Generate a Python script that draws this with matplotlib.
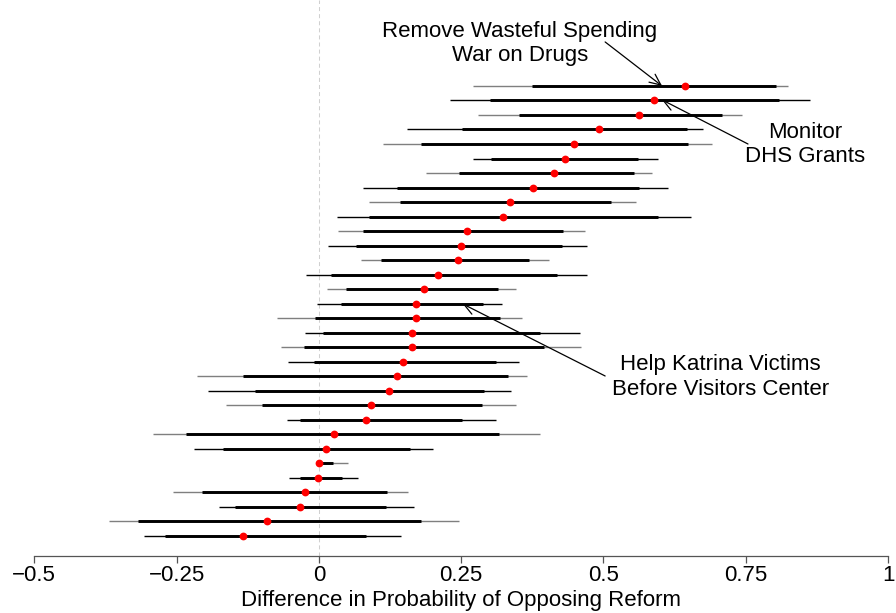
import matplotlib
matplotlib.use("Agg")
import matplotlib.pyplot as plt
import numpy as np

plt.rcParams['font.family'] = ['Liberation Sans', 'DejaVu Sans']
plt.rcParams['lines.scale_dashes'] = False

# Point estimates and interval bounds, one row per reform (top to bottom)
est = [0.643, 0.589, 0.562, 0.493, 0.448, 0.432, 0.413, 0.377, 0.336, 0.323,
       0.261, 0.250, 0.244, 0.209, 0.184, 0.171, 0.170, 0.164, 0.164, 0.148,
       0.137, 0.123, 0.091, 0.082, 0.026, 0.012, 0.001, -0.002, -0.025, -0.034,
       -0.091, -0.134]
lo_inner = [0.374, 0.301, 0.352, 0.252, 0.180, 0.303, 0.246, 0.137, 0.143, 0.088,
            0.077, 0.065, 0.109, 0.022, 0.048, 0.039, -0.006, 0.007, -0.027, -0.008,
            -0.134, -0.112, -0.100, -0.034, -0.234, -0.169, -0.001, -0.034, -0.206, -0.148,
            -0.318, -0.271]
hi_inner = [0.803, 0.809, 0.708, 0.646, 0.649, 0.561, 0.554, 0.562, 0.514, 0.595,
            0.429, 0.428, 0.369, 0.418, 0.314, 0.288, 0.319, 0.388, 0.395, 0.312,
            0.332, 0.291, 0.286, 0.251, 0.316, 0.161, 0.024, 0.040, 0.120, 0.118,
            0.179, 0.082]
lo_outer = [0.271, 0.231, 0.280, 0.155, 0.112, 0.271, 0.188, 0.077, 0.088, 0.032,
            0.033, 0.016, 0.074, -0.023, 0.014, -0.003, -0.074, -0.024, -0.066, -0.055,
            -0.215, -0.195, -0.164, -0.056, -0.292, -0.219, -0.004, -0.052, -0.256, -0.175,
            -0.368, -0.308]
hi_outer = [0.825, 0.863, 0.744, 0.675, 0.691, 0.595, 0.586, 0.613, 0.558, 0.654,
            0.467, 0.471, 0.405, 0.471, 0.347, 0.321, 0.357, 0.459, 0.461, 0.352,
            0.365, 0.338, 0.347, 0.311, 0.389, 0.200, 0.052, 0.069, 0.157, 0.168,
            0.246, 0.145]

tick_values = [-0.5, -0.25, 0, 0.25, 0.5, 0.75, 1]
tick_labels = ["\u22120.5", "\u22120.25", "0", "0.25", "0.5", "0.75", "1"]
xlabel = "Difference in Probability of Opposing Reform"

# Labelled reforms: (text, text position, arrow tail, arrow head) in data units
notes = [
    ("Remove Wasteful Spending\nWar on Drugs", (0.353, -1.93), (0.503, -2.03), (0.603, 1.0)),
    ("Monitor\nDHS Grants", (0.854, 5.03), (0.754, 5.0), (0.603, 1.96)),
    ("Help Katrina Victims\nBefore Visitors Center", (0.705, 21.05), (0.503, 20.98), (0.253, 16.02)),
]

W, H = 896, 613
fig = plt.figure(figsize=(W / 100, H / 100), dpi=100)
left_px, right_px, bottom_px = 34.3, 888.0, 556.0
ax = fig.add_axes([left_px / W, (H - bottom_px) / H,
                   (right_px - left_px) / W, bottom_px / H])

n = len(est)
rows = np.arange(1, n + 1)

ax.axvline(0, color='#d0d0d0', lw=0.75, dashes=(2.9, 2.2), zorder=1)

outer_colors = ['#7f7f7f' if i % 2 == 0 else 'black' for i in range(n)]
ax.hlines(rows, lo_outer, hi_outer, colors=outer_colors, lw=1.0, zorder=2)
ax.hlines(rows, lo_inner, hi_inner, colors='black', lw=2.1, zorder=3)
ax.plot(est, rows, 'o', color='red', ms=5.6, mec='none', zorder=4)

for text, xy_text, tail, head in notes:
    ax.text(xy_text[0], xy_text[1], text, ha='center', va='center',
            fontsize=16, linespacing=1.2)
    ax.annotate('', xy=head, xytext=tail,
                arrowprops=dict(arrowstyle='->,head_length=0.4,head_width=0.18',
                                mutation_scale=20, lw=0.9, color='black',
                                shrinkA=0, shrinkB=0))

ax.set_xlim(-0.5, 1)
ax.set_ylim(n + 1.38, 1 - 5.92)

for side in ('top', 'left', 'right'):
    ax.spines[side].set_visible(False)
ax.spines['bottom'].set_color('#555555')
ax.spines['bottom'].set_linewidth(0.9)

ax.set_yticks([])
ax.set_xticks(tick_values)
ax.set_xticklabels(tick_labels, fontsize=16)
ax.tick_params(axis='x', direction='out', length=5, width=0.9, color='#555555', pad=1.5)
ax.set_xlabel(xlabel, fontsize=16, labelpad=3)

fig.savefig('out.png', dpi=100)
